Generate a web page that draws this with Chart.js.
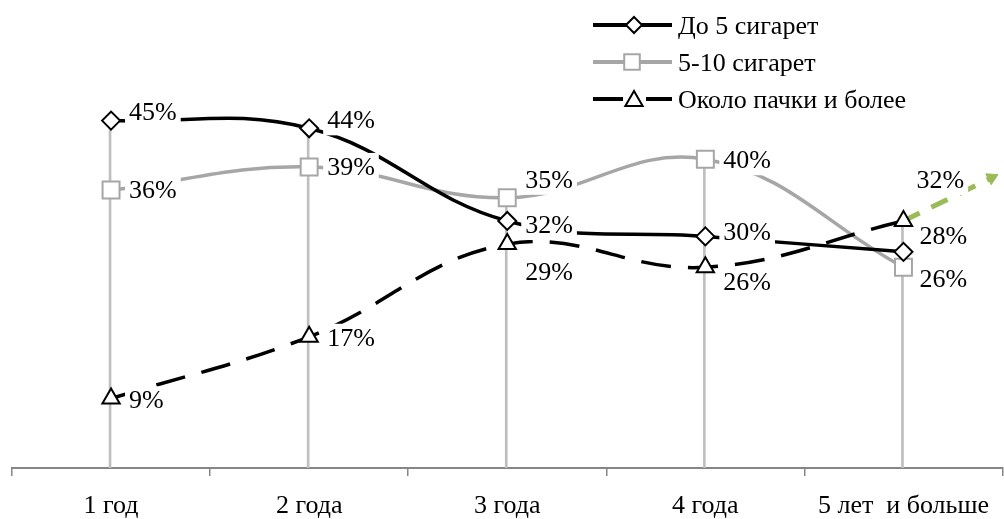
<!DOCTYPE html>
<html lang="ru">
<head>
<meta charset="utf-8">
<title>Стаж курения и количество сигарет</title>
<script src="https://cdn.jsdelivr.net/npm/chart.js@4/dist/chart.umd.min.js"></script>
<style>
  html, body { margin: 0; padding: 0; background: #fff; }
  #wrap { width: 1004px; height: 519px; position: relative; }
</style>
</head>
<body>
<div id="wrap"><canvas id="chart"></canvas></div>
<script>
// Smoking duration categories and share of smokers per daily amount (%)
const categories = ['1 год', '2 года', '3 года', '4 года', '5 лет  и больше'];
const seriesNames = ['До 5 сигарет', '5-10 сигарет', 'Около пачки и более'];
const upTo5 = [45, 44, 32, 30, 28];
const from5to10 = [36, 39, 35, 40, 26];
const packPlus = [9, 17, 29, 26, 32];

// Trend arrow continuing the last series past the final category (index, %)
const trendStart = [4, 32];
const trendEnd = [4.445, 37.6];

const FONT = "'Liberation Serif', 'Times New Roman', serif";

// Label placement (px from the point: dx to text start, dy to text centre)
const labelOffsets = [
  [[18, -8], [18, -8], [18, 4], [18, -4], [16, -16]],
  [[18, 0], [18, 0], [18, -18], [18, 1], [16, 12]],
  [[18, 2], [18, 1], [18, 28], [18, 15], [13, -41]]
];

const seriesData = [upTo5, from5to10, packPlus];
const dropHeights = categories.map((_, i) => Math.max(upTo5[i], from5to10[i], packPlus[i]));

// White-boxed value labels beside every point
const valueLabels = {
  id: 'valueLabels',
  afterDatasetsDraw(chart) {
    const ctx = chart.ctx;
    ctx.save();
    ctx.font = '26px ' + FONT;
    ctx.textBaseline = 'middle';
    ctx.textAlign = 'left';
    for (let s = 0; s < 3; s++) {
      const meta = chart.getDatasetMeta(s + 2);
      meta.data.forEach((pt, i) => {
        const txt = seriesData[s][i] + '%';
        const [dx, dy] = labelOffsets[s][i];
        const x = pt.x + dx, y = pt.y + dy;
        const w = ctx.measureText(txt).width;
        ctx.fillStyle = '#fff';
        ctx.fillRect(x - 4, y - 14, w + 8, 29);
        ctx.fillStyle = '#000';
        ctx.fillText(txt, x, y + 1);
      });
    }
    ctx.restore();
  }
};

// Legend with line samples and markers, top right
const lineLegend = {
  id: 'lineLegend',
  afterDraw(chart) {
    const ctx = chart.ctx;
    const items = [
      { color: '#000', dash: [], style: 'rectRot', r: 8, mx: 634, y: 25 },
      { color: '#a6a6a6', dash: [], style: 'rect', r: 11, mx: 632, y: 62 },
      { color: '#000', dash: [30, 23], style: 'triangle', r: 10, mx: 634, y: 99 }
    ];
    ctx.save();
    items.forEach((it, k) => {
      ctx.strokeStyle = it.color;
      ctx.lineWidth = 4;
      ctx.setLineDash(it.dash);
      ctx.beginPath();
      ctx.moveTo(593, it.y);
      ctx.lineTo(672, it.y);
      ctx.stroke();
      ctx.setLineDash([]);
      ctx.fillStyle = '#fff';
      ctx.lineWidth = 2;
      Chart.helpers.drawPoint(ctx, { pointStyle: it.style, radius: it.r, rotation: 0, borderWidth: 2 }, it.mx, it.y + (it.style === 'triangle' ? 2 : 0));
      ctx.fillStyle = '#000';
      ctx.font = '26px ' + FONT;
      ctx.textBaseline = 'middle';
      ctx.textAlign = 'left';
      ctx.fillText(seriesNames[k], 678, it.y + 2);
    });
    ctx.restore();
  }
};

function arrowRotation(c) {
  const chart = c.chart;
  const xs = chart.scales.xTrend, ys = chart.scales.y;
  if (!xs || !ys) return 0;
  const dx = xs.getPixelForValue(trendEnd[0]) - xs.getPixelForValue(trendStart[0]);
  const dy = ys.getPixelForValue(trendEnd[1]) - ys.getPixelForValue(trendStart[1]);
  return Math.atan2(dy, dx) * 180 / Math.PI + 90;
}

new Chart(document.getElementById('chart'), {
  type: 'line',
  data: {
    labels: categories,
    datasets: [
      {
        type: 'bar',
        label: 'drop',
        data: dropHeights,
        backgroundColor: '#bfbfbf',
        barThickness: 2,
        order: 6
      },
      {
        label: 'trend',
        xAxisID: 'xTrend',
        data: [{ x: trendStart[0], y: trendStart[1] }, { x: trendEnd[0], y: trendEnd[1] }],
        borderColor: '#9bbb59',
        borderWidth: 5,
        borderDash: [18, 13],
        tension: 0,
        pointRadius: [0, 7],
        pointStyle: 'triangle',
        pointRotation: arrowRotation,
        pointBackgroundColor: '#9bbb59',
        pointBorderColor: '#9bbb59',
        pointBorderWidth: 1,
        clip: false,
        order: 5
      },
      {
        label: seriesNames[0],
        data: upTo5,
        borderColor: '#000',
        borderWidth: 3.5,
        tension: 0.4,
        pointStyle: 'rectRot',
        pointRadius: 9,
        pointBackgroundColor: '#fff',
        pointBorderColor: '#000',
        pointBorderWidth: 2,
        order: 2
      },
      {
        label: seriesNames[1],
        data: from5to10,
        borderColor: '#a6a6a6',
        borderWidth: 3.5,
        tension: 0.4,
        pointStyle: 'rect',
        pointRadius: 12,
        pointBackgroundColor: '#fff',
        pointBorderColor: '#a6a6a6',
        pointBorderWidth: 2,
        order: 3
      },
      {
        label: seriesNames[2],
        data: packPlus,
        borderColor: '#000',
        borderWidth: 3.5,
        borderDash: [30, 17],
        tension: 0.4,
        pointStyle: 'triangle',
        pointRadius: 10,
        pointBackgroundColor: '#fff',
        pointBorderColor: '#000',
        pointBorderWidth: 2,
        order: 1
      }
    ]
  },
  options: {
    responsive: true,
    maintainAspectRatio: false,
    animation: false,
    layout: { autoPadding: false, padding: { top: 82, left: 12, right: 0, bottom: 0 } },
    plugins: { legend: { display: false }, tooltip: { enabled: false } },
    scales: {
      x: {
        type: 'category',
        offset: true,
        afterFit(scale) { scale.height = 51; },
        grid: { display: true, drawOnChartArea: false, drawTicks: true, tickLength: 8, color: '#868686', lineWidth: 1.5, offset: true },
        border: { display: true, color: '#868686', width: 2 },
        ticks: { font: { family: FONT, size: 26 }, color: '#000', padding: 15, maxRotation: 0, autoSkip: false }
      },
      xTrend: { type: 'linear', display: false, min: -0.5, max: 4.5 },
      y: { display: false, min: 0, max: 50 }
    }
  },
  plugins: [valueLabels, lineLegend]
});
</script>
</body>
</html>
